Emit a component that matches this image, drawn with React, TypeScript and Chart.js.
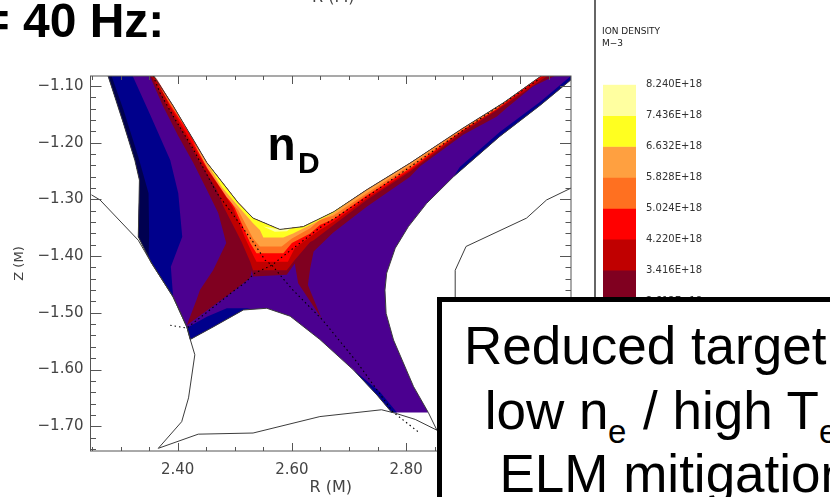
import React, { useEffect, useRef } from "react";
import { Chart, registerables } from "chart.js";

Chart.register(...registerables);

type P = [number, number];

// Tick values
const rMajor = [2.4, 2.6, 2.8, 3.0];
const rMinor = [2.25, 2.3, 2.35, 2.45, 2.5, 2.55, 2.65, 2.7, 2.75, 2.85, 2.9, 2.95, 3.05];
const zMajor = [-1.1, -1.2, -1.3, -1.4, -1.5, -1.6, -1.7];
const zMinor = [-1.12, -1.14, -1.16, -1.18, -1.22, -1.24, -1.26, -1.28, -1.32, -1.34, -1.36, -1.38, -1.42, -1.44, -1.46, -1.48, -1.52, -1.54, -1.56, -1.58, -1.62, -1.64, -1.66, -1.68, -1.72, -1.74];
const densityLevels = [8.24, 7.436, 6.632, 5.828, 5.024, 4.22, 3.416, 2.612];
const levelColors = ["#FFFFA0", "#FFFF20", "#FFA040", "#FF7020", "#FF0000", "#C00000", "#800020"];

// Grid edges (R, Z)
const leftEdge: P[] = [[2.278, -1.082], [2.305, -1.166], [2.325, -1.231], [2.333, -1.266], [2.331, -1.366], [2.354, -1.412], [2.392, -1.472], [2.416, -1.525], [2.422, -1.547]];
const privateEdge: P[] = [[2.462, -1.525], [2.515, -1.495], [2.556, -1.492], [2.597, -1.506], [2.649, -1.547], [2.708, -1.601], [2.749, -1.645], [2.775, -1.676]];
const rightEdge: P[] = [[2.839, -1.676], [2.813, -1.63], [2.778, -1.548], [2.765, -1.501], [2.763, -1.46], [2.766, -1.43], [2.781, -1.386], [2.804, -1.348], [2.836, -1.307], [2.883, -1.26], [2.964, -1.189], [3.035, -1.134], [3.089, -1.089], [3.089, -1.082]];
const upperEdge: P[] = [[2.358, -1.082], [2.392, -1.135], [2.427, -1.194], [2.451, -1.235], [2.506, -1.306], [2.532, -1.333], [2.579, -1.353], [2.62, -1.348], [2.673, -1.322], [2.731, -1.283], [2.807, -1.236], [2.9, -1.174], [2.97, -1.13], [3.037, -1.082]];

// Inner contour edges, outer (low density) to inner (high density)
const darkNavyInner: P[] = [[2.349, -1.401], [2.35, -1.363], [2.349, -1.289], [2.331, -1.225], [2.305, -1.142], [2.284, -1.082]];
const navyInner: P[] = [[2.388, -1.419], [2.408, -1.366], [2.401, -1.289], [2.387, -1.231], [2.352, -1.151], [2.321, -1.082]];
const navyPrivate: P[] = [[2.416, -1.525], [2.422, -1.547], [2.462, -1.525], [2.515, -1.495], [2.527, -1.492], [2.486, -1.492], [2.451, -1.507], [2.419, -1.525]];
const navyTarget: P[] = [[2.708, -1.601], [2.749, -1.645], [2.775, -1.676], [2.784, -1.676], [2.754, -1.639]];
const navyRight: P[] = [[2.883, -1.26], [2.964, -1.189], [3.035, -1.134], [3.089, -1.089], [3.089, -1.082], [3.035, -1.128], [2.964, -1.181], [2.894, -1.243]];
const band3416: P[] = [[2.351, -1.082], [2.374, -1.135], [2.401, -1.188], [2.427, -1.235], [2.451, -1.283], [2.471, -1.324], [2.485, -1.377], [2.462, -1.425], [2.439, -1.46], [2.433, -1.477], [2.416, -1.522], [2.5, -1.46], [2.527, -1.438], [2.53, -1.425], [2.532, -1.436], [2.591, -1.433], [2.605, -1.413], [2.611, -1.448], [2.652, -1.51], [2.628, -1.451], [2.632, -1.422], [2.638, -1.392], [2.672, -1.359], [2.731, -1.313], [2.807, -1.26], [2.824, -1.242], [2.9, -1.186], [2.959, -1.154], [2.976, -1.139], [3.022, -1.101], [3.061, -1.082]];
const band4220: P[] = [[2.354, -1.082], [2.381, -1.135], [2.409, -1.182], [2.439, -1.235], [2.468, -1.282], [2.48, -1.312], [2.512, -1.375], [2.527, -1.41], [2.532, -1.425], [2.591, -1.425], [2.605, -1.407], [2.632, -1.375], [2.638, -1.372], [2.673, -1.345], [2.731, -1.301], [2.807, -1.251], [2.9, -1.181], [2.959, -1.143], [3.048, -1.082]];
const band5024: P[] = [[2.36, -1.082], [2.386, -1.135], [2.416, -1.185], [2.446, -1.238], [2.478, -1.285], [2.497, -1.315], [2.518, -1.368], [2.532, -1.398], [2.538, -1.41], [2.593, -1.41], [2.605, -1.386], [2.632, -1.366], [2.649, -1.354], [2.672, -1.34], [2.731, -1.298], [2.807, -1.248], [2.9, -1.178], [2.959, -1.141], [3.041, -1.082]];
const band5828: P[] = [[2.366, -1.097], [2.388, -1.135], [2.422, -1.186], [2.451, -1.241], [2.483, -1.289], [2.5, -1.315], [2.527, -1.377], [2.538, -1.395], [2.585, -1.395], [2.6, -1.377], [2.632, -1.36], [2.649, -1.345], [2.672, -1.335], [2.731, -1.293], [2.807, -1.245], [2.9, -1.177], [2.959, -1.14], [3.036, -1.082]];
const band6632: P[] = [[2.427, -1.199], [2.452, -1.245], [2.486, -1.296], [2.506, -1.319], [2.532, -1.369], [2.544, -1.383], [2.582, -1.383], [2.6, -1.369], [2.632, -1.351], [2.649, -1.336], [2.672, -1.329], [2.731, -1.289], [2.807, -1.24], [2.9, -1.175]];
const band7436: P[] = [[2.451, -1.236], [2.478, -1.279], [2.506, -1.312], [2.532, -1.342], [2.544, -1.354], [2.55, -1.367], [2.585, -1.367], [2.602, -1.36], [2.632, -1.345], [2.673, -1.324], [2.705, -1.3]];
const band8240: P[] = [[2.55, -1.348], [2.57, -1.357], [2.591, -1.356], [2.6, -1.35]];

// Machine wall and separatrix
const wallLeft: P[] = [[2.249, -1.292], [2.264, -1.301], [2.331, -1.372], [2.354, -1.412], [2.392, -1.472], [2.416, -1.525], [2.422, -1.547], [2.43, -1.574], [2.419, -1.65], [2.407, -1.692], [2.366, -1.739]];
const wallBottom: P[] = [[2.366, -1.739], [2.436, -1.714], [2.532, -1.712], [2.649, -1.683], [2.757, -1.671], [2.781, -1.677], [2.816, -1.688], [2.854, -1.707], [3.0, -1.76]];
const wallCorner: P[] = [[2.839, -1.676], [2.854, -1.707]];
const wallRight: P[] = [[2.886, -1.5], [2.886, -1.425], [2.905, -1.383], [3.011, -1.333], [3.046, -1.301], [3.089, -1.28]];
const separatrixA: P[] = [[2.357, -1.082], [2.369, -1.112], [2.392, -1.153], [2.427, -1.211], [2.468, -1.288], [2.5, -1.331], [2.532, -1.375], [2.553, -1.407], [2.565, -1.416], [2.584, -1.439], [2.602, -1.46], [2.654, -1.513], [2.714, -1.587], [2.777, -1.675], [2.824, -1.712]];
const separatrixB: P[] = [[3.03, -1.09], [2.9, -1.178], [2.824, -1.231], [2.719, -1.304], [2.649, -1.35], [2.591, -1.395], [2.565, -1.416], [2.535, -1.43], [2.518, -1.447], [2.5, -1.46], [2.416, -1.527], [2.387, -1.522]];

const PURPLE = "#4B0090";
const NAVY = "#00008C";
const DARK_NAVY = "#000050";
const WALL = "#3c3c3c";

const upperBetween = (a: number, b: number): P[] =>
  upperEdge.filter((p) => p[0] > a && p[0] < b).reverse();

const withUpper = (lower: P[]): P[] =>
  [...lower, ...upperBetween(lower[0][0], lower[lower.length - 1][0])];

const fullDomain: P[] = [...leftEdge, ...privateEdge, ...rightEdge, ...[...upperEdge].reverse()];
const navyLeft: P[] = [...leftEdge.slice(0, 7), ...navyInner];
const darkNavyLeft: P[] = [...leftEdge.slice(0, 6), ...darkNavyInner];

const polygons: [P[], string][] = [
  [fullDomain, PURPLE],
  [navyLeft, NAVY],
  [darkNavyLeft, DARK_NAVY],
  [navyPrivate, NAVY],
  [navyTarget, NAVY],
  [navyRight, NAVY],
  [withUpper(band3416), levelColors[6]],
  [withUpper(band4220), levelColors[5]],
  [withUpper(band5024), levelColors[4]],
  [withUpper(band5828), levelColors[3]],
  [withUpper(band6632), levelColors[2]],
  [withUpper(band7436), levelColors[1]],
  [withUpper(band8240), levelColors[0]],
];

const xy = (pts: P[]) => pts.map(([x, y]) => ({ x, y }));

const framePlugin = {
  id: "frameTicks",
  afterDatasetsDraw(chart: any) {
    const { ctx, chartArea: a, scales } = chart;
    const x = scales.x;
    const y = scales.y;
    ctx.save();
    ctx.strokeStyle = "#555";
    ctx.lineWidth = 1;
    ctx.strokeRect(a.left, a.top, a.right - a.left, a.bottom - a.top);
    const seg = (x1: number, y1: number, x2: number, y2: number) => {
      ctx.beginPath();
      ctx.moveTo(x1, y1);
      ctx.lineTo(x2, y2);
      ctx.stroke();
    };
    const vTicks = (vals: number[], len: number) =>
      vals.forEach((v) => {
        const p = Math.round(x.getPixelForValue(v)) + 0.5;
        seg(p, a.bottom, p, a.bottom - len);
        seg(p, a.top, p, a.top + len);
      });
    const hTicks = (vals: number[], len: number) =>
      vals.forEach((v) => {
        const p = Math.round(y.getPixelForValue(v)) + 0.5;
        seg(a.left, p, a.left + len, p);
        seg(a.right, p, a.right - len, p);
      });
    vTicks(rMajor, 8);
    vTicks(rMinor, 4);
    hTicks(zMajor, 11);
    hTicks(zMinor, 5.5);
    ctx.restore();
  },
};

const BL = 0.8465;
function T(props: { x: number; base: number; size: number; bold?: boolean; font?: string; color?: string; children: React.ReactNode }) {
  const { x, base, size, bold, font, color, children } = props;
  return (
    <div
      style={{
        position: "absolute",
        left: x,
        top: base - BL * size,
        fontSize: size,
        lineHeight: 1,
        fontWeight: bold ? 700 : 400,
        fontFamily: font || "'Liberation Sans', Arial, sans-serif",
        color: color || "#000",
        whiteSpace: "nowrap",
      }}
    >
      {children}
    </div>
  );
}

const DV = "'DejaVu Sans', sans-serif";

export default function App() {
  const mainRef = useRef<HTMLCanvasElement>(null);
  const barRef = useRef<HTMLCanvasElement>(null);

  useEffect(() => {
    const polyDatasets = polygons.map(([pts, color], i) => ({
      data: xy(pts),
      showLine: true,
      fill: "shape",
      backgroundColor: color,
      borderColor: color,
      borderWidth: 0,
      pointRadius: 0,
      tension: 0,
      order: 100 - i,
    }));
    const line = (pts: P[], color: string, width: number, dash: number[] = []) => ({
      data: xy(pts),
      showLine: true,
      fill: false,
      borderColor: color,
      borderWidth: width,
      borderDash: dash,
      pointRadius: 0,
      tension: 0,
      order: 10,
    });
    const main = new Chart(mainRef.current!, {
      type: "scatter",
      data: {
        datasets: [
          ...polyDatasets,
          line(upperEdge, WALL, 1),
          line([...leftEdge, ...privateEdge], WALL, 1),
          line(rightEdge, WALL, 1),
          line(wallLeft, WALL, 1),
          line(wallBottom, WALL, 1),
          line(wallCorner, WALL, 1),
          line(wallRight, WALL, 1),
          line(separatrixA, "#000", 1.1, [1.5, 3]),
          line(separatrixB, "#000", 1.1, [1.5, 3]),
        ] as any,
      },
      options: {
        responsive: false,
        animation: false,
        events: [],
        devicePixelRatio: 1,
        layout: { padding: { top: 76, right: 259, left: 0, bottom: 0 } },
        plugins: { legend: { display: false }, tooltip: { enabled: false } },
        scales: {
          x: {
            type: "linear",
            min: 2.2473,
            max: 3.0888,
            grid: { display: false, drawTicks: false },
            border: { display: false },
            afterFit: (s: any) => { s.height = 46; },
            afterBuildTicks: (s: any) => { s.ticks = rMajor.map((value) => ({ value })); },
            ticks: {
              autoSkip: false,
              maxRotation: 0,
              padding: 10,
              color: "#444",
              font: { family: DV, size: 15 },
              callback: (v: any) => Number(v).toFixed(2),
            },
            title: { display: true, text: "R (M)", color: "#444", font: { family: DV, size: 16 }, padding: { top: 0, bottom: 0 } },
          },
          y: {
            type: "linear",
            min: -1.7437,
            max: -1.0824,
            grid: { display: false, drawTicks: false },
            border: { display: false },
            afterFit: (s: any) => { s.width = 90.5; },
            afterBuildTicks: (s: any) => { s.ticks = zMajor.map((value) => ({ value })); },
            ticks: {
              autoSkip: false,
              padding: 7,
              color: "#444",
              font: { family: DV, size: 15 },
              callback: (v: any) => "\u2212" + Math.abs(Number(v)).toFixed(2),
            },
            title: { display: true, text: "Z (M)", color: "#444", font: { family: DV, size: 13 }, padding: { top: 12, bottom: 0 } },
          },
        },
      } as any,
      plugins: [framePlugin] as any,
    });

    const bar = new Chart(barRef.current!, {
      type: "bar",
      data: {
        labels: [""],
        datasets: levelColors.map((c, i) => ({
          data: [[densityLevels[i + 1], densityLevels[i]]],
          backgroundColor: c,
          borderWidth: 0,
          barPercentage: 1,
          categoryPercentage: 1,
          grouped: false,
        })) as any,
      },
      options: {
        responsive: false,
        animation: false,
        events: [],
        devicePixelRatio: 1,
        layout: { padding: { top: 24.7, bottom: 19, left: 8, right: 0 } },
        plugins: { legend: { display: false }, tooltip: { enabled: false } },
        scales: {
          x: { display: false },
          y: {
            position: "right",
            min: 2.612,
            max: 8.24,
            grid: { display: false, drawTicks: false },
            border: { display: false },
            afterFit: (s: any) => { s.width = 79; },
            afterBuildTicks: (s: any) => { s.ticks = densityLevels.map((value) => ({ value })); },
            ticks: {
              autoSkip: false,
              padding: 10,
              color: "#333",
              font: { family: DV, size: 10 },
              callback: (v: any) => Number(v).toFixed(3) + "E+18",
            },
          },
        },
      } as any,
    });

    return () => {
      main.destroy();
      bar.destroy();
    };
  }, []);

  return (
    <div style={{ position: "fixed", left: 0, top: 0, width: 830, height: 497, overflow: "hidden", background: "#fff" }}>
      <canvas ref={mainRef} width={830} height={497} style={{ position: "absolute", left: 0, top: 0 }} />
      <canvas ref={barRef} width={120} height={260} style={{ position: "absolute", left: 595, top: 60 }} />
      <div style={{ position: "absolute", left: 594, top: 0, width: 1.5, height: 297, background: "#666" }} />
      <T x={-18.4} base={38} size={48} bold>= 40 Hz:</T>
      <T x={312} base={3} size={16} font={DV} color="#444">R (M)</T>
      <T x={267.5} base={160} size={46} bold>n</T>
      <T x={298} base={173} size={30} bold>D</T>
      <T x={602} base={35} size={9} font={DV} color="#222">ION DENSITY</T>
      <T x={602} base={47} size={9} font={DV} color="#222">M{"\u2212"}3</T>
      <div style={{ position: "absolute", left: 437, top: 297, width: 500, height: 300, border: "5px solid #000", background: "#fff" }} />
      <T x={464} base={364} size={53}>Reduced target</T>
      <T x={484.7} base={429.3} size={53}>low n</T>
      <T x={608} base={443} size={33}>e</T>
      <T x={643} base={429.3} size={53}>/ high T</T>
      <T x={819} base={443} size={33}>e</T>
      <T x={499.5} base={491.7} size={53}>ELM mitigation</T>
    </div>
  );
}
